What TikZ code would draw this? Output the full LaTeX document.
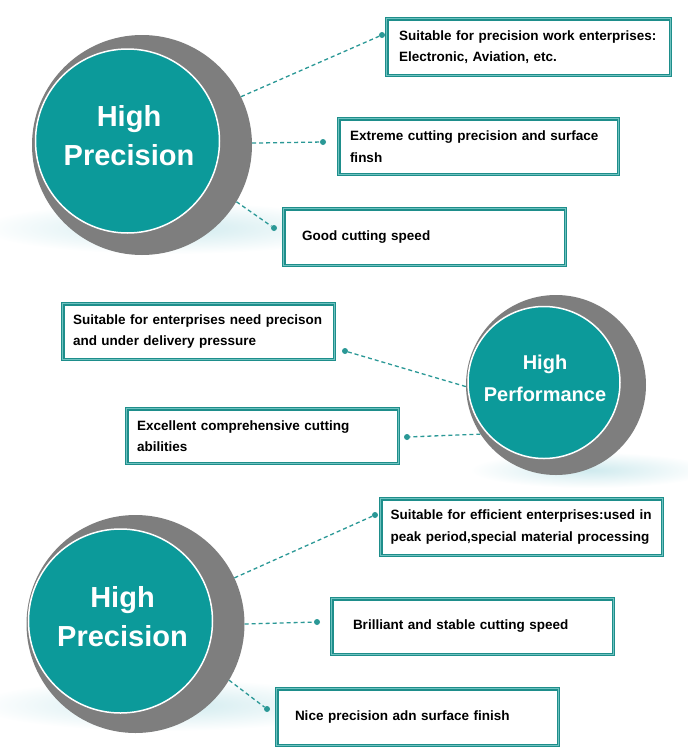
\documentclass[tikz,border=0pt]{standalone}
\usepackage{fontspec}
\setmainfont{Liberation Sans}
\definecolor{tealc}{HTML}{0C9A9A}
\definecolor{ringgray}{HTML}{7E7E7E}
\definecolor{cardedge}{HTML}{1E8E8B}
\definecolor{cardlight}{HTML}{6FC2C0}
\definecolor{leadc}{HTML}{2A9896}
\definecolor{glow}{HTML}{CFEAEE}

\begin{document}
\begin{tikzpicture}[x=1pt,y=-1pt,
    ring/.style={circle,fill=ringgray,inner sep=0pt},
    disc/.style={circle,fill=tealc,draw=white,line width=1.5pt,inner sep=0pt},
    title/.style={text=white,align=center,font=\bfseries\fontsize{29}{39}\selectfont},
    card/.style={rectangle,draw=cardedge,line width=3.5pt,fill=white,align=left,
        inner xsep=0pt,font=\bfseries\fontsize{13.5}{21.5}\selectfont,
        postaction={draw=cardlight,line width=1pt}},
    dot/.style={circle,fill=leadc,inner sep=0pt,minimum size=6pt},
    lead/.style={leadc,line width=1.3pt,dash pattern=on 4pt off 3pt}]

    \fill[white] (0,0) rectangle (688,756);
    \useasboundingbox (0,0) rectangle (688,756);

    % Glow under the circles
    \shade[inner color=glow,outer color=white] (170,228) ellipse (190 and 26);
    \shade[inner color=glow,outer color=white] (590,470) ellipse (120 and 18);
    \shade[inner color=glow,outer color=white] (165,705) ellipse (190 and 26);

    % High Precision (top)
    \node[ring,minimum size=220] (ring1) at (142,145) {};
    \node[disc,minimum size=184] (disc1) at (127.5,141) {};
    \node[title] (t1) at (129,136) {High\\Precision};

    \node[card,minimum width=283.5,minimum height=56.5,text width=259] (a1) at (528.5,47)
        {Suitable for precision work enterprises:\\Electronic, Aviation, etc.};
    \node[card,minimum width=279.5,minimum height=55.5,text width=257] (a2) at (478.5,146.5)
        {Extreme cutting precision and surface\\finsh};
    \node[card,minimum width=281.5,minimum height=56.5,text width=245] (a3) at (424.5,237)
        {Good cutting speed};

    \node[dot] (d11) at (382,35) {};
    \node[dot] (d12) at (323,142) {};
    \node[dot] (d13) at (274,228) {};
    \draw[lead] (ring1.26) -- (d11);
    \draw[lead] (ring1.1) -- (d12);
    \draw[lead] (ring1.-31) -- (d13);

    % High Performance (middle)
    \node[ring,minimum size=180] (ring2) at (556,385) {};
    \node[disc,minimum size=152] (disc2) at (544,382.5) {};
    \node[title,font=\bfseries\fontsize{20}{32}\selectfont] (t2) at (545,378.5) {High\\Performance};

    \node[card,minimum width=271.5,minimum height=55.5,text width=251] (b1) at (198.5,331.5)
        {Suitable for enterprises need precison\\and under delivery pressure};
    \node[card,minimum width=271.5,minimum height=54.5,text width=251] (b2) at (262.5,436)
        {Excellent comprehensive cutting\\abilities};

    \node[dot] (d21) at (345,351) {};
    \node[dot] (d22) at (407,437) {};
    \draw[lead] (ring2.181) -- (d21);
    \draw[lead] (ring2.213) -- (d22);

    % High Precision (bottom)
    \node[ring,minimum size=218] (ring3) at (135.5,624) {};
    \node[disc,minimum size=184] (disc3) at (120.5,621) {};
    \node[title] (t3) at (122.5,616.5) {High\\Precision};

    \node[card,minimum width=281.5,minimum height=56.5,text width=262] (c1) at (521.5,527)
        {Suitable for efficient enterprises:used in\\peak period,special material processing};
    \node[card,minimum width=281.5,minimum height=55.5,text width=239] (c2) at (472.5,626.5)
        {Brilliant and stable cutting speed};
    \node[card,minimum width=281.5,minimum height=56.5,text width=245] (c3) at (417.5,717)
        {Nice precision adn surface finish};

    \node[dot] (d31) at (375,515) {};
    \node[dot] (d32) at (317,622) {};
    \node[dot] (d33) at (267,709) {};
    \draw[lead] (ring3.25) -- (d31);
    \draw[lead] (ring3.0) -- (d32);
    \draw[lead] (ring3.-31) -- (d33);
\end{tikzpicture}
\end{document}
